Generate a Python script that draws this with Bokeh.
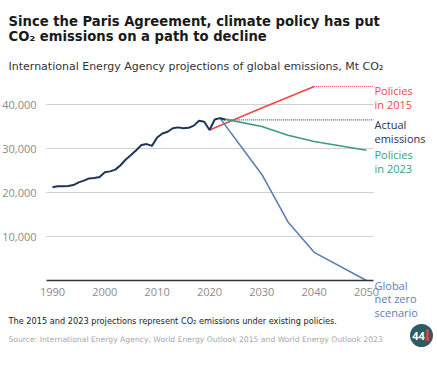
from bokeh.plotting import figure
from bokeh.models import Range1d, FixedTicker, NumeralTickFormatter, Label
from bokeh.embed import file_html
from bokeh.resources import INLINE

# Actual global CO2 emissions, Mt
years_actual = list(range(1990, 2024))
actual = [21200, 21400, 21400, 21500, 21700, 22300, 22700, 23200, 23300, 23500,
          24600, 24800, 25200, 26200, 27500, 28500, 29600, 30800, 31000, 30600,
          32500, 33400, 33800, 34600, 34800, 34600, 34700, 35200, 36300, 36100,
          34200, 36600, 36900, 36500]

# IEA projections
years_2015 = [2020, 2030, 2040]
policies_2015 = [34200, 39200, 44100]

years_2023 = [2022, 2030, 2035, 2040, 2050]
policies_2023 = [36900, 35000, 33000, 31600, 29600]

years_nz = [2022, 2030, 2035, 2040, 2050]
net_zero = [36900, 24100, 13300, 6400, 0]

x_ticks = [1990, 2000, 2010, 2020, 2030, 2040, 2050]
y_ticks = [10000, 20000, 30000, 40000]

NAVY = "#1d3557"
RED = "#f2464a"
GREEN = "#3a9d79"
BLUE = "#5a7fb4"
FONT = "Open Sans"
WIDE = "DejaVu Sans"

W, H = 437, 365
# the frame fills the canvas; the chart area sits inside it
AREA_L, AREA_R, AREA_B = 46, 373, 280
PX_PER_YEAR = 314 / 60
PX_PER_MT = 44 / 10000
X0 = 1990 - 52 / PX_PER_YEAR
X1 = X0 + W / PX_PER_YEAR
Y0 = -(H - AREA_B) / PX_PER_MT
Y1 = AREA_B / PX_PER_MT


def sx(px):
    return X0 + px / PX_PER_YEAR


def sy(py):
    return (AREA_B - py) / PX_PER_MT


p = figure(width=W, height=H, output_backend="svg", toolbar_location=None,
           x_range=Range1d(X0, X1), y_range=Range1d(Y0, Y1),
           min_border=0, min_border_left=0, min_border_right=0,
           min_border_top=0, min_border_bottom=0)
p.title.visible = False
p.outline_line_color = None
p.background_fill_color = "white"
p.border_fill_color = "white"
p.xgrid.visible = False
p.ygrid.visible = False

x_left, x_right = sx(AREA_L), sx(AREA_R)

# horizontal gridlines
p.segment(x0=[x_left] * len(y_ticks), y0=y_ticks,
          x1=[x_right] * len(y_ticks), y1=y_ticks,
          line_color="#d0d0d0", line_width=1)

# axes placed at fixed data locations
p.xaxis.fixed_location = 0
p.xaxis.bounds = (x_left, x_right)
p.xaxis.ticker = FixedTicker(ticks=x_ticks)
p.xaxis.axis_line_color = "#333333"
p.xaxis.axis_line_width = 1.5
p.xaxis.major_tick_line_color = None
p.xaxis.minor_tick_line_color = None
p.xaxis.major_label_standoff = 1
p.yaxis.fixed_location = x_left
p.yaxis.ticker = FixedTicker(ticks=y_ticks)
p.yaxis.formatter = NumeralTickFormatter(format="0,0")
p.yaxis.axis_line_color = None
p.yaxis.major_tick_line_color = None
p.yaxis.minor_tick_line_color = None
p.yaxis.major_label_standoff = 4
for ax in (p.xaxis, p.yaxis):
    ax.major_label_text_font = FONT
    ax.major_label_text_font_size = "11px"
    ax.major_label_text_color = "#8c8c8c"

# reference dotted lines to the right-hand labels
p.line([years_2015[-1], x_right], [policies_2015[-1]] * 2, line_color=RED,
       line_width=1, line_dash="1 1")
p.line([years_actual[-1], x_right], [actual[-1]] * 2, line_color=NAVY,
       line_width=1, line_dash="1 1")

p.line(years_2015, policies_2015, line_color=RED, line_width=1.6)
p.line(years_2023, policies_2023, line_color=GREEN, line_width=1.6)
p.line(years_nz, net_zero, line_color=BLUE, line_width=1.6)
p.line(years_actual, actual, line_color=NAVY, line_width=2)


def add_text(x, y, text, size, color, style="normal", baseline="alphabetic",
             align="left", font=FONT, y_offset=0, line_height=1.2):
    p.add_layout(Label(x=x, y=y, text=text, text_font=font,
                       text_font_size=size, text_color=color,
                       text_font_style=style, text_baseline=baseline,
                       text_align=align, text_line_height=line_height,
                       y_offset=y_offset))


# end-of-line labels
lx = sx(AREA_R + 1)
for val, txt, col in [(policies_2015[-1], "Policies\nin 2015", RED),
                      (actual[-1], "Actual\nemissions", NAVY),
                      (policies_2023[-1], "Policies\nin 2023", GREEN),
                      (net_zero[-1], "Global\nnet zero\nscenario", BLUE)]:
    add_text(lx, val, txt, "11px", col, baseline="top", y_offset=3,
             line_height=0.92)

# headings
add_text(sx(8), sy(21), "Since the Paris Agreement, climate policy has put",
         "13.2px", "#1a1a1a", style="bold", font=WIDE)
add_text(sx(8), sy(36), "CO₂ emissions on a path to decline",
         "13.2px", "#1a1a1a", style="bold", font=WIDE)
add_text(sx(8), sy(66),
         "International Energy Agency projections of global emissions, Mt CO₂",
         "11px", "#333333", font=WIDE)

# notes
add_text(sx(8), sy(320),
         "The 2015 and 2023 projections represent CO₂ emissions under existing policies.",
         "8.2px", "#222222", font=WIDE)
add_text(sx(8), sy(339),
         "Source: International Energy Agency, World Energy Outlook 2015 and World Energy Outlook 2023",
         "7.65px", "#a8a8a8", font=WIDE)

# badge
p.scatter([sx(421)], [sy(335)], size=23, marker="circle",
          fill_color="#2d5a63", line_color=None)
add_text(sx(418), sy(335), "44", "11px", "white", style="bold",
         baseline="middle", align="center")
p.segment(x0=[sx(427)], y0=[sy(330)], x1=[sx(427)], y1=[sy(338)],
          line_color="#e8413c", line_width=2.5, line_cap="round")
p.scatter([sx(427)], [sy(339)], size=3.5, marker="circle",
          fill_color="#e8413c", line_color=None)

open("out.html", "w").write(file_html(p, INLINE))
